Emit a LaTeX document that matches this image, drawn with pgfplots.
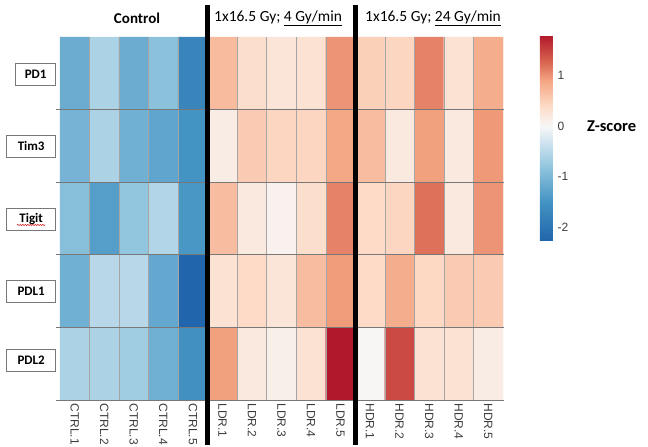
\documentclass[border=0pt]{standalone}
\usepackage{pgfplots}
\pgfplotsset{compat=1.18}
\usepackage{fontspec}
\setmainfont{Carlito}
\newfontfamily\arial{Liberation Sans}
\usetikzlibrary{decorations.pathmorphing}

% RdBu diverging map, white at 0 (range -2.25 .. 1.8, positions in steps of 0.05)
\pgfplotsset{
  colormap={zrdbu}{
    rgb255(0pt)=(33,102,172);
    rgb255(15pt)=(67,147,195);
    rgb255(29pt)=(146,197,222);
    rgb255(39pt)=(209,229,240);
    rgb255(45pt)=(247,247,247);
    rgb255(53pt)=(253,219,199);
    rgb255(63pt)=(244,165,130);
    rgb255(71pt)=(214,96,77);
    rgb255(81pt)=(178,24,43)
  }
}
\definecolor{cellline}{RGB}{165,165,165}
\definecolor{rowline}{RGB}{120,120,120}
\definecolor{lbl}{RGB}{60,60,60}

\begin{document}
\begin{tikzpicture}
\path[use as bounding box] (0pt,0pt) rectangle (648pt,447pt);

\begin{axis}[
  at={(60pt,47pt)}, anchor=south west,
  width=443pt, height=363pt, scale only axis,
  xmin=-0.5, xmax=14.5, ymin=-0.5, ymax=4.5,
  y dir=reverse,
  axis line style={draw=none},
  clip=false,
  ytick=\empty,
  xtick={0,...,14},
  xticklabels={CTRL.1,CTRL.2,CTRL.3,CTRL.4,CTRL.5,LDR.1,LDR.2,LDR.3,LDR.4,LDR.5,HDR.1,HDR.2,HDR.3,HDR.4,HDR.5},
  xticklabel style={rotate=-90, anchor=west, font=\arial\fontsize{12}{12}\selectfont, text=lbl},
  major tick length=0pt,
  colormap name=zrdbu,
  point meta min=-2.25, point meta max=1.8,
  colorbar,
  colorbar style={
    at={(1.0835,1.0055)}, anchor=north west,
    width=13pt, height=205pt, scale only axis,
    axis line style={draw=none},
    ytick={-2,-1,0,1},
    major tick length=0pt,
    yticklabel style={font=\arial\fontsize{12}{12}\selectfont, text=lbl, xshift=1pt},
    /pgf/number format/assume math mode=true,
  },
]
\addplot[matrix plot*, mesh/cols=15, point meta=explicit] table[meta=z] {
x y z
0 0 -1.15
1 0 -0.6
2 0 -1.15
3 0 -0.85
4 0 -1.75
5 0 0.7
6 0 0.35
7 0 0.25
8 0 0.3
9 0 1.0
10 0 0.5
11 0 0.45
12 0 1.1
13 0 0.3
14 0 0.82
0 1 -1.05
1 1 -0.6
2 1 -1.1
3 1 -1.25
4 1 -1.5
5 1 0.15
6 1 0.55
7 1 0.45
8 1 0.45
9 1 0.88
10 1 0.68
11 1 0.2
12 1 0.92
13 1 0.2
14 1 0.97
0 2 -0.9
1 2 -1.35
2 2 -0.8
3 2 -0.55
4 2 -1.45
5 2 0.68
6 2 0.2
7 2 0.08
8 2 0.35
9 2 1.1
10 2 0.4
11 2 0.45
12 2 1.2
13 2 0.2
14 2 1.0
0 3 -1.1
1 3 -0.5
2 3 -0.5
3 3 -1.2
4 3 -2.25
5 3 0.3
6 3 0.4
7 3 0.25
8 3 0.68
9 3 0.95
10 3 0.4
11 3 0.82
12 3 0.42
13 3 0.55
14 3 0.55
0 4 -0.6
1 4 -0.6
2 4 -0.68
3 4 -1.1
4 4 -1.55
5 4 0.92
6 4 0.2
7 4 0.12
8 4 0.3
9 4 1.8
10 4 0.02
11 4 1.45
12 4 0.3
13 4 0.3
14 4 0.15
};

% cell borders
\pgfplotsinvokeforeach{0.5,1.5,2.5,3.5,5.5,6.5,7.5,8.5,10.5,11.5,12.5,13.5}{
  \draw[cellline, line width=0.6pt] (axis cs:#1,-0.5) -- (axis cs:#1,4.5);
}
\pgfplotsinvokeforeach{0.5,1.5,2.5,3.5,4.5}{
  \draw[rowline, line width=0.9pt] (axis cs:-0.62,#1) -- (axis cs:14.55,#1);
}
% group separators
\draw[black, line width=5pt] (axis cs:4.5,-0.94) -- (axis cs:4.5,5.12);
\draw[black, line width=5pt] (axis cs:9.5,-0.94) -- (axis cs:9.5,5.12);
\end{axis}

% group headers
\node[font=\bfseries\fontsize{15}{15}\selectfont] at (137pt,429pt) {Control};
\node[anchor=west, font=\fontsize{15.5}{15}\selectfont, inner sep=0pt] at (214pt,429pt) {1x16.5 Gy; \underline{4 Gy/min}};
\node[anchor=west, font=\fontsize{15.5}{15}\selectfont, inner sep=0pt] at (365pt,429pt) {1x16.5 Gy; \underline{24 Gy/min}};

% row labels
\tikzset{rowlab/.style={draw=rowline, line width=0.7pt, anchor=east, minimum height=22pt, inner sep=0pt, font=\bfseries\fontsize{13}{13}\selectfont}}
\node[rowlab, minimum width=40pt] at (56pt,372.5pt) {PD1};
\node[rowlab, minimum width=49pt] at (56pt,301pt) {Tim3};
\node[rowlab, minimum width=49pt] at (56pt,228pt) {Tigit};
\node[rowlab, minimum width=49pt] at (56pt,156pt) {PDL1};
\node[rowlab, minimum width=49pt] at (56pt,87pt) {PDL2};
\draw[red!80!black, line width=0.5pt, decorate, decoration={snake, amplitude=0.6pt, segment length=2.5pt}] (17pt,222pt) -- (45pt,222pt);

% colorbar title
\node[anchor=west, inner sep=0pt, font=\bfseries\fontsize{16.5}{16}\selectfont] at (587pt,321pt) {Z-score};
\end{tikzpicture}
\end{document}
